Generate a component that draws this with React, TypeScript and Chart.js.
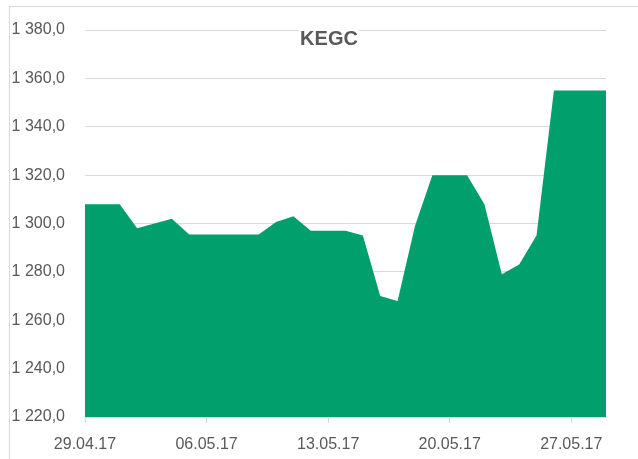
import React, { useEffect, useRef } from "react";
import { Chart, registerables } from "chart.js";

Chart.register(...registerables);

const dates = [
  "29.04.17", "30.04.17", "01.05.17", "02.05.17", "03.05.17", "04.05.17", "05.05.17",
  "06.05.17", "07.05.17", "08.05.17", "09.05.17", "10.05.17", "11.05.17", "12.05.17",
  "13.05.17", "14.05.17", "15.05.17", "16.05.17", "17.05.17", "18.05.17", "19.05.17",
  "20.05.17", "21.05.17", "22.05.17", "23.05.17", "24.05.17", "25.05.17", "26.05.17",
  "27.05.17", "28.05.17", "29.05.17",
];

const kegcValues = [
  1308, 1308, 1308, 1298, 1300, 1302, 1295.5,
  1295.5, 1295.5, 1295.5, 1295.5, 1300.6, 1303, 1297,
  1297, 1297, 1295, 1270, 1268, 1299, 1320,
  1320, 1320, 1308, 1279, 1283, 1295, 1355,
  1355, 1355, 1355,
];

const chartTitle = "KEGC";
const yMin = 1220;
const yMax = 1380;
const yStep = 20;
const labelEvery = 7;

const FONT = "'Liberation Sans', Arial, sans-serif";
const TEXT_COLOR = "#595959";
const GRID_COLOR = "#d9d9d9";
const FILL_COLOR = "#009f6b";

function formatValue(v: number): string {
  const fixed = Math.abs(v).toFixed(1);
  const [intPart, dec] = fixed.split(".");
  const withSpaces = intPart.replace(/\B(?=(\d{3})+(?!\d))/g, " ");
  return (v < 0 ? "-" : "") + withSpaces + "," + dec;
}

const titlePlugin = {
  id: "customTitle",
  afterDraw(chart: any) {
    const ctx = chart.ctx;
    ctx.save();
    ctx.font = `bold 20px ${FONT}`;
    const w = ctx.measureText(chartTitle).width;
    const cx = 329;
    const baseY = 45;
    ctx.fillStyle = "#ffffff";
    ctx.fillRect(cx - w / 2 - 1, 28, w + 2, 18);
    ctx.fillStyle = TEXT_COLOR;
    ctx.textAlign = "center";
    ctx.textBaseline = "alphabetic";
    ctx.fillText(chartTitle, cx, baseY);
    ctx.restore();
  },
};

export default function App() {
  const canvasRef = useRef<HTMLCanvasElement | null>(null);

  useEffect(() => {
    if (!canvasRef.current) return;
    const chart = new Chart(canvasRef.current, {
      type: "line",
      data: {
        labels: dates,
        datasets: [
          {
            label: chartTitle,
            data: kegcValues,
            backgroundColor: FILL_COLOR,
            borderColor: FILL_COLOR,
            borderWidth: 0,
            pointRadius: 0,
            tension: 0,
            fill: "start",
          },
        ],
      },
      options: {
        animation: false,
        responsive: true,
        maintainAspectRatio: false,
        layout: { padding: { left: 0, right: 32, top: 30, bottom: 0 } },
        plugins: {
          legend: { display: false },
          title: { display: false },
          tooltip: { enabled: false },
        },
        scales: {
          x: {
            type: "category",
            offset: false,
            afterFit: (s: any) => {
              s.height = 42;
            },
            grid: {
              drawOnChartArea: false,
              drawTicks: true,
              tickLength: 6,
              color: (c: any) => (c.index % labelEvery === 0 ? GRID_COLOR : "rgba(0,0,0,0)"),
            },
            border: { display: true, color: GRID_COLOR, width: 1 },
            ticks: {
              autoSkip: false,
              maxRotation: 0,
              minRotation: 0,
              padding: 12,
              color: TEXT_COLOR,
              font: { family: FONT, size: 16 },
              callback: (_v: any, i: number) => (i % labelEvery === 0 ? dates[i] : ""),
            },
          },
          y: {
            min: yMin,
            max: yMax,
            afterFit: (s: any) => {
              s.width = 85;
            },
            grid: {
              color: GRID_COLOR,
              lineWidth: 1,
              drawTicks: false,
            },
            border: { display: false },
            ticks: {
              stepSize: yStep,
              padding: 20,
              color: TEXT_COLOR,
              font: { family: FONT, size: 16 },
              callback: (v: any) => formatValue(Number(v)),
            },
          },
        },
      },
      plugins: [titlePlugin],
    });
    return () => chart.destroy();
  }, []);

  return (
    <div style={{ position: "absolute", left: 0, top: 0, width: 638, height: 459, background: "#fff" }}>
      <div
        style={{
          position: "absolute",
          left: 9,
          top: 6,
          width: 628,
          height: 452,
          borderLeft: `1px solid ${GRID_COLOR}`,
          borderTop: `1px solid ${GRID_COLOR}`,
        }}
      />
      <div style={{ position: "absolute", left: 0, top: 0, width: 638, height: 459 }}>
        <canvas ref={canvasRef} />
      </div>
    </div>
  );
}
